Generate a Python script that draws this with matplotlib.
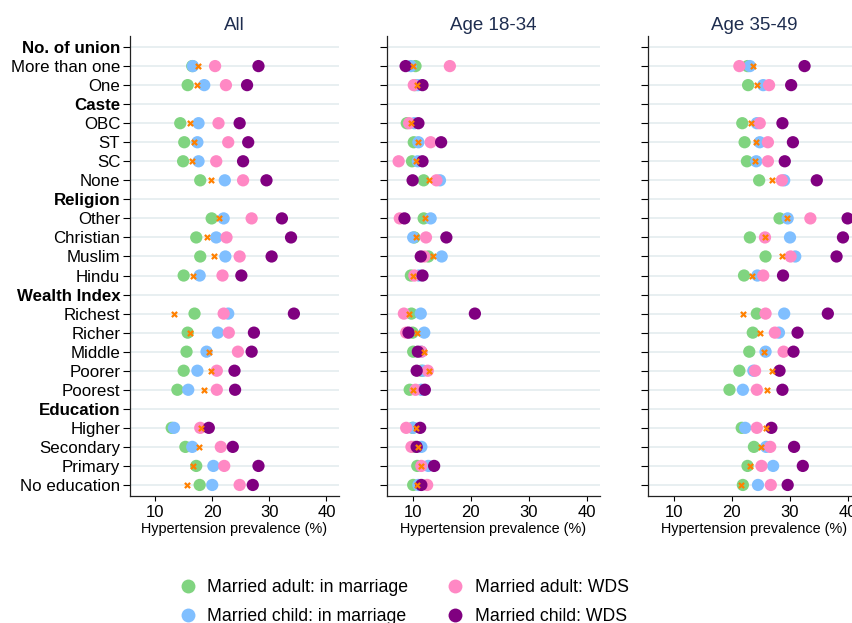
import matplotlib
matplotlib.use("Agg")
import matplotlib.pyplot as plt
from matplotlib.lines import Line2D
import numpy as np

plt.rcParams['font.family'] = ['Liberation Sans', 'DejaVu Sans']

# row labels (top to bottom), headers are bold and have no data
row_labels = ['No. of union', 'More than one', 'One',
              'Caste', 'OBC', 'ST', 'SC', 'None',
              'Religion', 'Other', 'Christian', 'Muslim', 'Hindu',
              'Wealth Index', 'Richest', 'Richer', 'Middle', 'Poorer', 'Poorest',
              'Education', 'Higher', 'Secondary', 'Primary', 'No education']
header_rows = [0, 3, 8, 13, 19]

panel_titles = ['All', 'Age 18-34', 'Age 35-49']
series_names = ['Married adult: in marriage', 'Married child: in marriage',
                'Married adult: WDS', 'Married child: WDS']

# values for the data rows (More than one ... No education)
all_adult_in = [16.5, 15.7, 14.4, 15.1, 14.9, 17.9, 19.9, 17.2, 17.9, 15.0,
                16.9, 15.7, 15.5, 15.0, 13.9, 12.9, 15.3, 17.2, 17.8]
all_child_in = [16.6, 18.6, 17.6, 17.4, 17.6, 22.2, 22.0, 20.7, 22.3, 17.8,
                22.8, 21.0, 19.0, 17.4, 15.8, 13.3, 16.5, 20.2, 20.0]
all_adult_wds = [20.5, 22.4, 21.1, 22.8, 20.7, 25.4, 26.9, 22.5, 24.8, 21.8,
                 22.0, 22.9, 24.5, 20.8, 20.8, 17.9, 21.5, 22.1, 24.8]
all_child_wds = [28.1, 26.1, 24.8, 26.3, 25.4, 29.5, 32.2, 33.8, 30.4, 25.1,
                 34.3, 27.3, 26.9, 23.9, 24.0, 19.4, 23.6, 28.1, 27.1]
all_overall = [17.5, 17.3, 16.1, 16.8, 16.5, 19.8, 21.1, 19.0, 20.3, 16.6,
               13.3, 16.1, 19.4, 19.8, 18.6, 18.0, 17.6, 16.6, 15.5]

young_adult_in = [10.5, 10.4, 9.0, 10.2, 9.9, 11.9, 11.9, 10.3, 12.7, 9.7,
                  9.8, 10.0, 10.1, 11.5, 9.5, 10.0, 10.3, 10.8, 10.1]
young_child_in = [9.7, 10.9, 10.3, 11.0, 10.9, 14.7, 13.1, 10.1, 15.0, 11.1,
                  11.4, 12.0, 11.5, 11.8, 11.5, 10.1, 11.5, 12.7, 11.0]
young_adult_wds = [16.4, 10.2, 9.4, 13.1, 7.6, 14.1, 7.8, 12.3, 12.0, 10.3,
                   8.5, 8.9, 11.5, 12.6, 10.5, 8.9, 9.8, 11.5, 12.5]
young_child_wds = [8.8, 11.7, 11.0, 14.9, 11.7, 10.0, 8.6, 15.8, 11.4, 11.7,
                   20.7, 9.3, 10.9, 10.7, 12.1, 11.3, 10.7, 13.7, 11.5]
young_overall = [10.1, 10.8, 9.7, 10.9, 10.5, 12.9, 12.1, 10.5, 13.5, 10.1,
                 9.3, 10.7, 12.0, 12.9, 10.1, 10.6, 10.9, 11.4, 10.7]

old_adult_in = [22.7, 22.8, 21.8, 22.2, 22.6, 24.7, 28.2, 23.1, 25.8, 22.1,
                24.3, 23.6, 23.0, 21.3, 19.6, 21.7, 23.8, 22.7, 21.9]
old_child_in = [23.1, 25.4, 24.3, 24.8, 24.2, 29.0, 29.6, 30.0, 30.9, 24.4,
                29.0, 28.1, 25.8, 23.7, 21.9, 22.3, 25.9, 27.1, 24.5]
old_adult_wds = [21.3, 26.4, 24.8, 26.2, 26.2, 28.6, 33.5, 25.7, 30.1, 25.4,
                 25.8, 27.4, 28.9, 24.0, 24.3, 24.3, 26.6, 25.1, 26.7]
old_child_wds = [32.5, 30.2, 28.7, 30.5, 29.1, 34.6, 39.9, 39.1, 38.0, 28.8,
                 36.5, 31.3, 30.6, 28.2, 28.7, 26.8, 30.7, 32.2, 29.6]
old_overall = [23.6, 24.4, 23.3, 24.1, 23.9, 26.9, 29.4, 25.7, 28.7, 23.5,
               22.0, 24.9, 25.6, 26.9, 26.1, 25.9, 25.0, 23.1, 21.6]

colors = ['#80d480', '#80bfff', '#ff88c4', '#800080']
x_color = '#ff8000'

panels = [
    [all_adult_in, all_child_in, all_adult_wds, all_child_wds, all_overall],
    [young_adult_in, young_child_in, young_adult_wds, young_child_wds, young_overall],
    [old_adult_in, old_child_in, old_adult_wds, old_child_wds, old_overall],
]

n_rows = len(row_labels)
data_rows = [i for i in range(n_rows) if i not in header_rows]

W, H = 853, 623
fig = plt.figure(figsize=(W / 100, H / 100), dpi=100)

# axes boxes in pixels: left, width
boxes = [(130, 209), (387, 213), (648, 213)]
top_px, bot_px = 36, 496

for p, (left, width) in enumerate(boxes):
    ax = fig.add_axes([left / W, 1 - bot_px / H, width / W, (bot_px - top_px) / H])
    vals = panels[p]

    for r in range(n_rows):
        ax.axhline(r, color='#e6eef0', lw=1.3, zorder=0)

    for k in range(4):
        ax.scatter(vals[k], data_rows, s=78, color=colors[k], edgecolors='none',
                   zorder=2 + k)
    ax.scatter(vals[4], data_rows, marker='x', s=14, color=x_color,
               linewidths=1.6, zorder=7)

    ax.set_xlim(5.6, 42.2)
    ax.set_ylim(23.58, -0.58)
    ax.set_xticks([10, 20, 30, 40])
    ax.set_yticks(range(n_rows))
    ax.tick_params(axis='x', length=3.6, width=0.8, pad=3, labelsize=12)
    ax.tick_params(axis='y', length=5, width=0.8, pad=2, labelsize=12.2)
    if p == 0:
        ax.set_yticklabels(row_labels)
        for i, lab in enumerate(ax.get_yticklabels()):
            if i in header_rows:
                lab.set_fontweight('bold')
    else:
        ax.set_yticklabels([])

    for side in ['top', 'right']:
        ax.spines[side].set_visible(False)
    for side in ['left', 'bottom']:
        ax.spines[side].set_color('#222222')
        ax.spines[side].set_linewidth(0.9)

    ax.set_title(panel_titles[p], fontsize=13.5, color='#1e2d4f', pad=4.5)
    ax.set_xlabel('Hypertension prevalence (%)', fontsize=10.4, labelpad=1)

handles = [Line2D([], [], marker='o', linestyle='none', markersize=10,
                  markerfacecolor=c, markeredgecolor='none') for c in colors]
fig.legend(handles, series_names, ncol=2, loc='upper left',
           bbox_to_anchor=(179 / W, 1 - 579 / H), frameon=False,
           fontsize=12.7, handlelength=1.0, handletextpad=0.58,
           columnspacing=2.2, labelspacing=0.68, borderpad=0, borderaxespad=0)

fig.savefig('out.png', dpi=100)
